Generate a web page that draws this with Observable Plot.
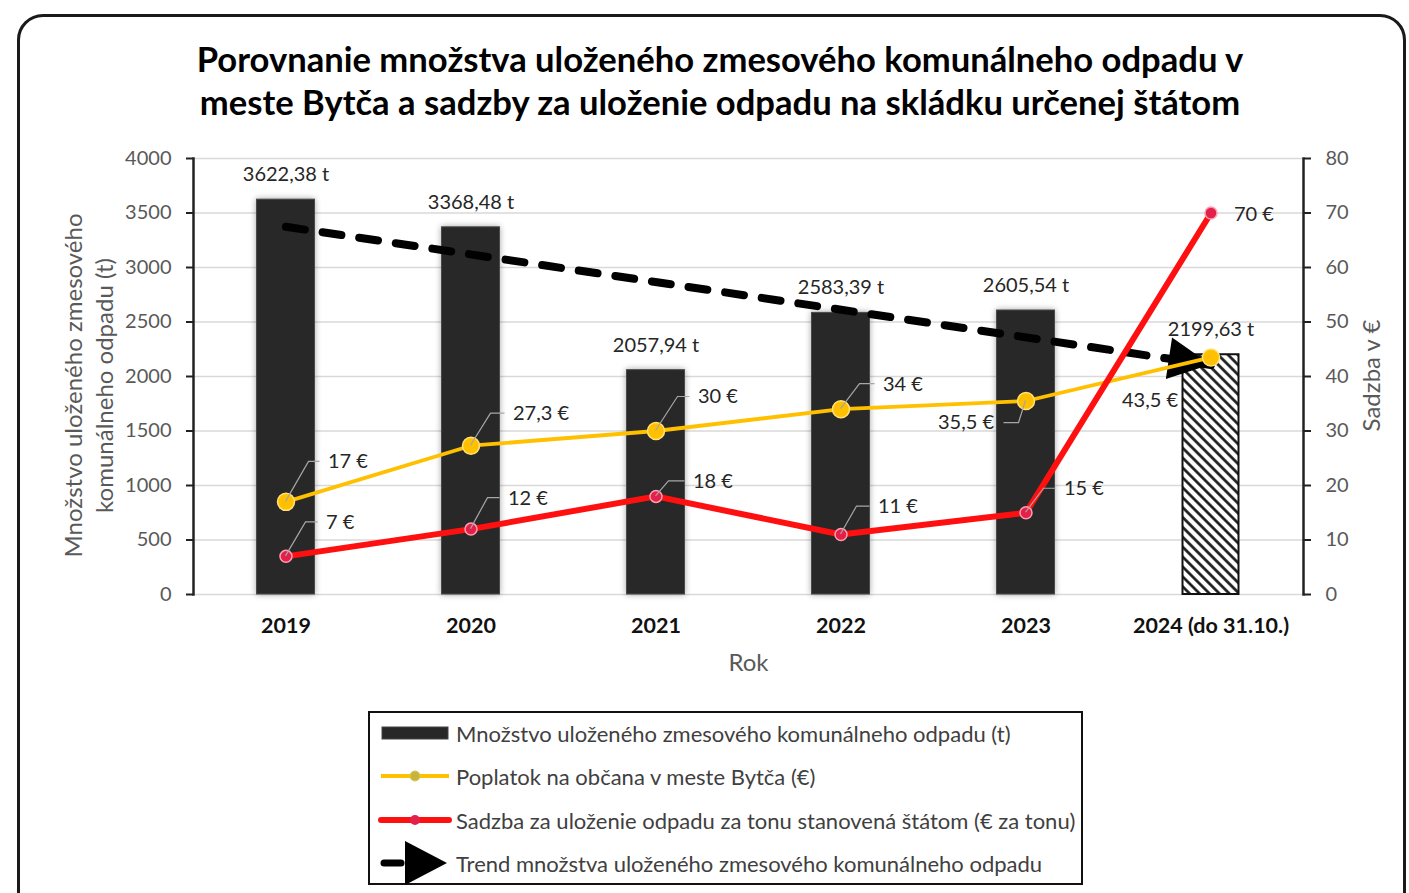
<!DOCTYPE html>
<html>
<head>
<meta charset="utf-8">
<script src="https://cdn.jsdelivr.net/npm/d3@7"></script>
<script src="https://cdn.jsdelivr.net/npm/@observablehq/plot@0.6"></script>
<style>
  body { margin:0; width:1409px; height:893px; position:relative; overflow:hidden; background:#fff; font-family: Lato, "Open Sans", sans-serif; }
  #frame { position:absolute; left:17px; top:14px; width:1389px; height:960px; border:3px solid #1a1a1a; border-radius:26px; box-sizing:border-box; }
  #title { position:absolute; left:0; top:37px; width:1440px; text-align:center; font-weight:700; font-size:34.6px; line-height:43px; color:#000; }
  #chart { position:absolute; left:0; top:0; }
  #legend { position:absolute; left:368px; top:711px; width:715px; height:174px; border:2px solid #111; box-sizing:border-box; background:#fff; }
  .item { position:absolute; left:11px; height:30px; display:flex; align-items:center; font-size:22px; color:#404040; white-space:nowrap; }
  .item svg { flex:none; overflow:visible; margin-right:5px; }
</style>
</head>
<body>
<svg width="0" height="0" style="position:absolute">
  <defs>
    <pattern id="hatch" width="7" height="7" patternUnits="userSpaceOnUse" patternTransform="rotate(-45)">
      <rect width="7" height="7" fill="#fff"></rect>
      <line x1="1.5" y1="0" x2="1.5" y2="7" stroke="#111" stroke-width="2.6"></line>
    </pattern>
  </defs>
</svg>
<div id="frame"></div>
<div id="title">Porovnanie množstva uloženého zmesového komunálneho odpadu v<br>meste Bytča a sadzby za uloženie odpadu na skládku určenej štátom</div>
<div id="chart"></div>
<div id="legend"></div>
<script>
// ---- data ----
const years = ["2019", "2020", "2021", "2022", "2023", "2024 (do 31.10.)"];
const tons = [3622.38, 3368.48, 2057.94, 2583.39, 2605.54, 2199.63];
const fee = [17, 27.3, 30, 34, 35.5, 43.5];
const rate = [7, 12, 18, 11, 15, 70];
const leftTicks = [0, 500, 1000, 1500, 2000, 2500, 3000, 3500, 4000];
const rightTicks = [0, 10, 20, 30, 40, 50, 60, 70, 80];
const seriesNames = [
  "Množstvo uloženého zmesového komunálneho odpadu (t)",
  "Poplatok na občana v meste Bytča (€)",
  "Sadzba za uloženie odpadu za tonu stanovená štátom (€ za tonu)",
  "Trend množstva uloženého zmesového komunálneho odpadu"
];
const leftTitle = "Množstvo uloženého zmesového\nkomunálneho odpadu (t)";
const rightTitle = "Sadzba v €";
const xTitle = "Rok";

// ---- label layout (pixel offsets of annotations) ----
const feeLayout = [
  {dx: 42, dy: -40, cx: 23}, {dx: 42, dy: -32, cx: 20}, {dx: 42, dy: -34, cx: 22},
  {dx: 42, dy: -25, cx: 19}, {dx: -32, dy: 22, cx: -7, end: true}, {dx: -33, dy: 43, end: true}
];
const rateLayout = [
  {dx: 40, dy: -34, cx: 20}, {dx: 37, dy: -31, cx: 17}, {dx: 37, dy: -15, cx: 13},
  {dx: 37, dy: -28, cx: 16}, {dx: 38, dy: -24, cx: 18}, {dx: 23, dy: 2}
];

const k = d3.max(leftTicks) / d3.max(rightTicks);
const rows = years.map((year, i) => ({year, i, t: tons[i], fee: fee[i] * k, rate: rate[i] * k}));
const fmt = v => String(v).replace(".", ",");

// linear least-squares trend of the tonnage
const xs = d3.range(tons.length);
const mx = d3.mean(xs), my = d3.mean(tons);
const slope = d3.sum(xs, (x, i) => (x - mx) * (tons[i] - my)) / d3.sum(xs, x => (x - mx) ** 2);
const trend = [0, tons.length - 1].map(i => ({year: years[i], t: my + slope * (i - mx)}));

const YELLOW = "#ffc000", RED = "#ff1010", TREND = "#010101", BAR = "#282828";
const hasAxisMarks = typeof Plot.axisY === "function";

const labelMarks = [];
rows.forEach((d, i) => {
  const f = feeLayout[i], r = rateLayout[i];
  labelMarks.push(Plot.text([d], {x: "year", y: "fee", text: () => fmt(fee[i]) + " €", dx: f.dx, dy: f.dy,
    textAnchor: f.end ? "end" : "start", fontSize: 20, fill: "#262626"}));
  labelMarks.push(Plot.text([d], {x: "year", y: "rate", text: () => fmt(rate[i]) + " €", dx: r.dx, dy: r.dy,
    textAnchor: r.end ? "end" : "start", fontSize: 20, fill: "#262626"}));
});

const axisMarks = hasAxisMarks ? [
  Plot.axisY({anchor: "left", ticks: leftTicks, tickFormat: d => String(d), tickSize: 7, tickPadding: 15, fontSize: 20, fill: "#595959", stroke: "#222", strokeWidth: 2, label: null}),
  Plot.axisY({anchor: "right", ticks: leftTicks, tickFormat: d => String(d / k), tickSize: 7, tickPadding: 15, fontSize: 20, fill: "#595959", stroke: "#222", strokeWidth: 2, label: null}),
  Plot.axisX({tickSize: 0, tickPadding: 23, fontSize: 21.5, fontWeight: "bold", fill: "#111", label: null}),
  Plot.frame({anchor: "left", stroke: "#222", strokeWidth: 2.5}),
  Plot.frame({anchor: "right", stroke: "#222", strokeWidth: 2.5})
] : [];

const chart = Plot.plot({
  width: 1409, height: 700,
  marginTop: 158, marginBottom: 106, marginLeft: 193, marginRight: 106,
  x: {type: "band", domain: years, padding: 0, ...(hasAxisMarks ? {} : {tickSize: 0, tickPadding: 23, label: null})},
  y: {domain: [0, d3.max(leftTicks)], ...(hasAxisMarks ? {} : {ticks: leftTicks, tickFormat: d => String(d), tickSize: 7, label: null})},
  style: {fontFamily: "Lato, sans-serif", fontSize: "20px", background: "transparent", overflow: "visible"},
  marks: [
    Plot.gridY(leftTicks, {stroke: "#d9d9d9", strokeOpacity: 1, strokeWidth: 1.3}),
    Plot.barY(rows.filter(d => d.i < 5), {x: "year", y: "t", fill: BAR, stroke: "#4a4a4a", strokeWidth: 1,
      insetLeft: 63.5, insetRight: 63.5}),
    Plot.barY(rows.filter(d => d.i === 5), {x: "year", y: "t", fill: "url(#hatch)", stroke: "#111", strokeWidth: 2,
      insetLeft: 64.5, insetRight: 64.5}),
    Plot.line(trend, {x: "year", y: "t", stroke: TREND, strokeWidth: 8, strokeDasharray: "19,18", strokeLinecap: "round"}),
    Plot.line(rows, {x: "year", y: "fee", stroke: YELLOW, strokeWidth: 3.8}),
    Plot.dot(rows, {x: "year", y: "fee", r: 8.5, fill: YELLOW, stroke: "#ffe27a", strokeWidth: 1.5}),
    Plot.line(rows, {x: "year", y: "rate", stroke: RED, strokeWidth: 6}),
    Plot.dot(rows, {x: "year", y: "rate", r: 6, fill: "#e3204a", stroke: "#ff9eb0", strokeWidth: 1.5}),
    Plot.text(rows, {x: "year", y: "t", text: d => d.t.toFixed(2).replace(".", ",") + " t", dy: -25, fontSize: 20, fill: "#262626"}),
    ...labelMarks,
    ...axisMarks,
    Plot.text([leftTitle], {frameAnchor: "left", text: d => d, rotate: -90, textAnchor: "middle", lineAnchor: "middle",
      dx: -106, dy: 9, fontSize: 24, fill: "#595959", lineHeight: 1.3}),
    Plot.text([rightTitle], {frameAnchor: "right", text: d => d, rotate: -90, textAnchor: "middle", lineAnchor: "middle",
      dx: 69, dy: -1, fontSize: 24, fill: "#595959"}),
    Plot.text([xTitle], {frameAnchor: "bottom", text: d => d, lineAnchor: "middle", dy: 69, fontSize: 24, fill: "#595959"})
  ]
});
document.getElementById("chart").appendChild(chart);

// ---- leaders and trend arrowhead, positioned through the plot's scales ----
const sx = chart.scale("x"), sy = chart.scale("y");
const bx = sx.apply ? (v => sx.apply(v)) : d3.scaleBand(sx.domain, sx.range).padding(0);
const ly = sy.apply ? (v => sy.apply(v)) : d3.scaleLinear(sy.domain, sy.range);
const X = v => bx(v) + sx.bandwidth / 2;
const svgNode = chart.tagName.toLowerCase() === "svg" ? chart : chart.querySelector("svg");
const svg = d3.select(svgNode);
const barG = svgNode.querySelector(`g[fill="${BAR}"]`);
if (barG) barG.setAttribute("style", "filter: drop-shadow(0 0 3px rgba(0,0,0,0.35))");
const leaders = svg.append("g").attr("fill", "none").attr("stroke", "#a6a6a6").attr("stroke-width", 1.2);
function leader(d, val, L) {
  if (L.cx === undefined) return;
  const x0 = X(d.year), y0 = ly(val);
  const hx = L.end ? L.dx + 10 : L.dx - 8;
  leaders.append("path").attr("d", `M${x0},${y0}L${x0 + L.cx},${y0 + L.dy}L${x0 + hx},${y0 + L.dy}`);
}
rows.forEach((d, i) => { leader(d, d.fee, feeLayout[i]); leader(d, d.rate, rateLayout[i]); });

const tg = svgNode.querySelector(`g[stroke="${TREND}"]`);
const x0 = X(trend[0].year), y0 = ly(trend[0].t), x1 = X(trend[1].year), y1 = ly(trend[1].t);
const len = Math.hypot(x1 - x0, y1 - y0), ux = (x1 - x0) / len, uy = (y1 - y0) / len;
const bxp = x1 - 42 * ux, byp = y1 - 42 * uy;
const head = document.createElementNS("http://www.w3.org/2000/svg", "polygon");
head.setAttribute("points", `${x1},${y1} ${bxp - 21 * uy},${byp + 21 * ux} ${bxp + 21 * uy},${byp - 21 * ux}`);
head.setAttribute("fill", "#000");
if (tg) tg.parentNode.insertBefore(head, tg.nextSibling); else svgNode.appendChild(head);

// ---- legend ----
const symbols = [
  `<svg width="70" height="30"><rect x="1" y="9" width="66" height="12" fill="#272727" stroke="#444"/></svg>`,
  `<svg width="70" height="30"><line x1="0" y1="15" x2="68" y2="15" stroke="${YELLOW}" stroke-width="4"/><circle cx="34" cy="15" r="5" fill="#c9b43a" stroke="#d8c860"/></svg>`,
  `<svg width="70" height="30"><line x1="0" y1="15" x2="68" y2="15" stroke="${RED}" stroke-width="6" stroke-linecap="round"/><circle cx="34" cy="15" r="5" fill="#e3204a"/></svg>`,
  `<svg width="70" height="30"><line x1="3" y1="15" x2="20" y2="15" stroke="#000" stroke-width="7" stroke-linecap="round"/><polygon points="66,15 24,-7 24,37" fill="#000"/></svg>`
];
const centers = [22, 65, 109, 152];
const legend = document.getElementById("legend");
seriesNames.forEach((name, i) => {
  const div = document.createElement("div");
  div.className = "item";
  div.style.top = (centers[i] - 2 - 15) + "px";
  div.innerHTML = symbols[i] + `<span>${name}</span>`;
  legend.appendChild(div);
});
</script>
</body>
</html>
